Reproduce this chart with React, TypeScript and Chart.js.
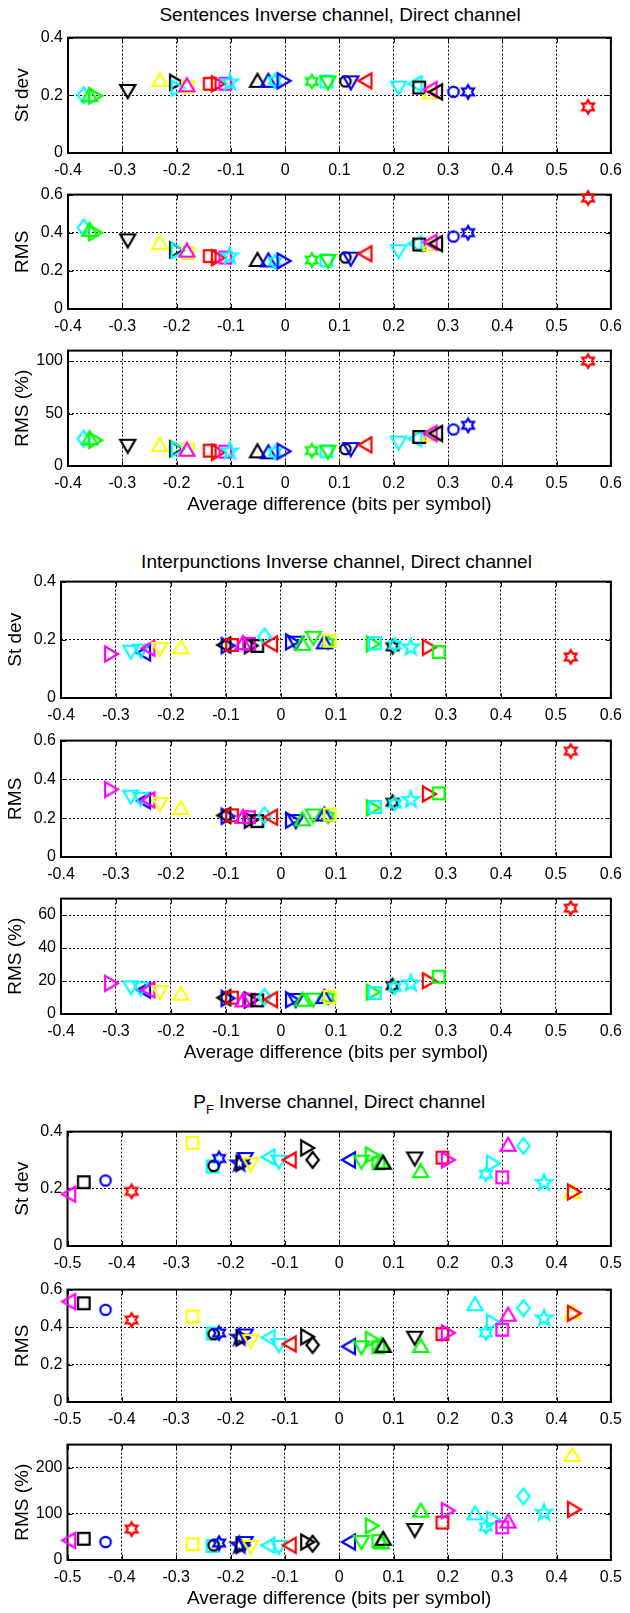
import React, { useEffect, useRef } from 'react';
import { Chart, registerables } from 'chart.js';

Chart.register(...registerables);

// ---------------- Sentences ----------------
const sentencesX = [-0.371, -0.36, -0.35, -0.29, -0.231, -0.201, -0.198, -0.179, -0.181, -0.139, -0.124, -0.11, -0.102, -0.051, -0.031, -0.019, -0.003, 0.049, 0.076, 0.079, 0.111, 0.121, 0.148, 0.209, 0.24, 0.247, 0.268, 0.268, 0.278, 0.31, 0.337, 0.558];
const sentencesStd = [0.2, 0.2, 0.198, 0.215, 0.253, 0.245, 0.225, 0.23, 0.235, 0.24, 0.24, 0.24, 0.245, 0.25, 0.25, 0.25, 0.25, 0.248, 0.248, 0.245, 0.248, 0.245, 0.25, 0.227, 0.24, 0.227, 0.21, 0.22, 0.212, 0.212, 0.212, 0.16];
const sentencesRms = [0.427, 0.415, 0.4, 0.36, 0.346, 0.31, 0.306, 0.294, 0.306, 0.277, 0.269, 0.27, 0.277, 0.257, 0.255, 0.248, 0.252, 0.257, 0.255, 0.252, 0.27, 0.264, 0.29, 0.303, 0.343, 0.338, 0.34, 0.35, 0.343, 0.38, 0.4, 0.582];
const sentencesRmsPct = [26, 26.4, 24.5, 19.3, 19.9, 16.5, 16.1, 15.5, 15.5, 14.6, 13, 13.7, 14, 14, 13, 13, 14, 14.6, 14, 13.7, 16.1, 16.1, 20.2, 22.4, 26, 27.6, 30, 31, 31, 34.8, 38.8, 100];
const sentencesMarkers = ['cd', 'g^', 'g>', 'kv', 'y^', 'k>', 'c>', 'ys', 'm^', 'rs', 'r>', 'ms', 'cp', 'k^', 'b^', 'ch', 'b>', 'gh', 'cs', 'gv', 'ko', 'bv', 'r<', 'cv', 'c<', 'ks', 'y^', 'm<', 'k<', 'bo', 'bh', 'rh'];

// ---------------- Interpunctions ----------------
const interpX = [-0.309, -0.273, -0.249, -0.255, -0.241, -0.22, -0.182, -0.097, -0.103, -0.089, -0.055, -0.069, -0.058, -0.043, -0.03, -0.018, 0.027, 0.02, 0.039, 0.059, 0.086, 0.079, 0.089, 0.167, 0.171, 0.203, 0.207, 0.236, 0.269, 0.287, 0.527];
const interpStd = [0.151, 0.159, 0.155, 0.163, 0.171, 0.169, 0.174, 0.18, 0.182, 0.182, 0.18, 0.189, 0.186, 0.179, 0.211, 0.186, 0.19, 0.193, 0.186, 0.207, 0.19, 0.191, 0.197, 0.186, 0.188, 0.176, 0.182, 0.174, 0.174, 0.158, 0.141];
const interpRms = [0.348, 0.311, 0.29, 0.3, 0.294, 0.274, 0.252, 0.21, 0.214, 0.215, 0.19, 0.207, 0.205, 0.185, 0.214, 0.205, 0.185, 0.19, 0.194, 0.214, 0.21, 0.219, 0.219, 0.253, 0.258, 0.282, 0.275, 0.295, 0.325, 0.328, 0.546];
const interpRmsPct = [18.6, 16.2, 14.5, 15.5, 14.6, 13.3, 12.3, 9.5, 9.9, 9.9, 8.5, 8.3, 8.7, 8.3, 10.3, 8.7, 8.5, 8.7, 8.7, 8.7, 10, 10.3, 10.3, 13.3, 12.7, 17.2, 16.2, 18.6, 20.2, 22.6, 64.2];
const interpMarkers = ['m>', 'cv', 'b<', 'cv', 'm<', 'yv', 'y^', 'b>', 'k<', 'rs', 'k>', 'm^', 'ms', 'ks', 'cd', 'r<', 'bv', 'b>', 'g^', 'gv', 'gh', 'b^', 'ys', 'g>', 'cs', 'kh', 'ch', 'cp', 'r>', 'gs', 'rh'];

// ---------------- P_F ----------------
const pfX = [-0.497, -0.47, -0.43, -0.382, -0.27, -0.233, -0.231, -0.221, -0.184, -0.178, -0.173, -0.163, -0.13, -0.111, -0.091, -0.059, -0.049, 0.018, 0.041, 0.06, 0.072, 0.078, 0.081, 0.139, 0.15, 0.19, 0.2, 0.25, 0.27, 0.283, 0.3, 0.311, 0.339, 0.377, 0.429, 0.432];
const pfStd = [0.181, 0.223, 0.229, 0.191, 0.361, 0.278, 0.28, 0.306, 0.289, 0.289, 0.304, 0.286, 0.311, 0.295, 0.301, 0.343, 0.301, 0.301, 0.295, 0.318, 0.289, 0.295, 0.291, 0.306, 0.262, 0.309, 0.301, 0.456, 0.251, 0.289, 0.24, 0.354, 0.35, 0.221, 0.189, 0.189];
const pfRms = [0.536, 0.527, 0.492, 0.438, 0.456, 0.365, 0.362, 0.368, 0.344, 0.342, 0.355, 0.325, 0.344, 0.304, 0.31, 0.348, 0.304, 0.296, 0.292, 0.334, 0.292, 0.305, 0.299, 0.343, 0.299, 0.362, 0.369, 0.522, 0.369, 0.426, 0.386, 0.466, 0.501, 0.447, 0.478, 0.473];
const pfRmsPct = [42.4, 46, 38.9, 67, 34, 30.4, 31.8, 36.7, 31.8, 31.8, 36.7, 28.3, 31.8, 28.3, 31.8, 38.9, 35.3, 38.9, 38.9, 74, 41, 38, 46, 65, 107, 81, 107, 101, 72, 88, 70.7, 83.4, 137.8, 102.5, 227.6, 109.5];
const pfMarkers = ['m<', 'ks', 'bo', 'rh', 'ys', 'cs', 'ko', 'bh', 'bp', 'k>', 'bv', 'yv', 'c<', 'cv', 'r<', 'k>', 'kd', 'b<', 'gv', 'g>', 'gs', 'g^', 'k^', 'kv', 'g^', 'rs', 'm>', 'c^', 'ch', 'c>', 'ms', 'm^', 'cd', 'cp', 'y^', 'r>'];

// ---------------- Axis ticks ----------------
const xTicksWide = [-0.4, -0.3, -0.2, -0.1, 0, 0.1, 0.2, 0.3, 0.4, 0.5, 0.6];
const xTicksSym = [-0.5, -0.4, -0.3, -0.2, -0.1, 0, 0.1, 0.2, 0.3, 0.4, 0.5];
const stdTicks = [0, 0.2, 0.4];
const rmsTicks = [0, 0.2, 0.4, 0.6];
const pctTicksSentences = [0, 50, 100];
const pctTicksInterp = [0, 20, 40, 60];
const pctTicksPF = [0, 100, 200];

const FONT = '"Liberation Sans", Arial, Helvetica, sans-serif';
const PAD_TOP = 12;
const XTITLE = 'Average difference (bits per symbol)';

const COLORS: Record<string, string> = {
  r: '#ff0000', g: '#00ff00', b: '#0000ff', c: '#00ffff', m: '#ff00ff', y: '#ffff00', k: '#000000',
};

const markerCache = new Map<string, HTMLCanvasElement>();
function makeMarker(spec: string): HTMLCanvasElement {
  const hit = markerCache.get(spec);
  if (hit) return hit;
  const S = 26;
  const c = document.createElement('canvas');
  c.width = S; c.height = S;
  const g = c.getContext('2d')!;
  g.translate(S / 2, S / 2);
  g.strokeStyle = COLORS[spec[0]];
  g.lineWidth = 2.2;
  g.lineJoin = 'miter';
  g.beginPath();
  const poly = (pts: number[][]) => { g.moveTo(pts[0][0], pts[0][1]); for (let i = 1; i < pts.length; i++) g.lineTo(pts[i][0], pts[i][1]); g.closePath(); };
  const star = (n: number, ro: number, ri: number) => {
    const pts: number[][] = [];
    for (let i = 0; i < 2 * n; i++) {
      const a = -Math.PI / 2 + (i * Math.PI) / n;
      const r = i % 2 === 0 ? ro : ri;
      pts.push([r * Math.cos(a), r * Math.sin(a)]);
    }
    poly(pts);
  };
  switch (spec[1]) {
    case 'o': g.arc(0, 0, 5.2, 0, Math.PI * 2); break;
    case 's': g.rect(-5.8, -5.8, 11.6, 11.6); break;
    case 'd': poly([[0, -8], [6.2, 0], [0, 8], [-6.2, 0]]); break;
    case '^': poly([[0, -7], [7.5, 6], [-7.5, 6]]); break;
    case 'v': poly([[0, 7], [7.5, -6], [-7.5, -6]]); break;
    case '>': poly([[7, 0], [-6, -7.5], [-6, 7.5]]); break;
    case '<': poly([[-7, 0], [6, -7.5], [6, 7.5]]); break;
    case 'p': star(5, 8.5, 3.4); break;
    case 'h': star(6, 6.8, 3.9); break;
  }
  g.stroke();
  markerCache.set(spec, c);
  return c;
}

type Group = { left: number; right: number; xTicks: number[]; xs: number[]; markers: string[]; };
const groups: Group[] = [
  { left: 68, right: 612, xTicks: xTicksWide, xs: sentencesX, markers: sentencesMarkers },
  { left: 61, right: 612, xTicks: xTicksWide, xs: interpX, markers: interpMarkers },
  { left: 67.5, right: 611, xTicks: xTicksSym, xs: pfX, markers: pfMarkers },
];

type PanelCfg = { g: number; top: number; bottom: number; ylabel: string; ys: number[]; yTicks: number[]; ymax: number; xtitle?: boolean; };
const panels: PanelCfg[] = [
  { g: 0, top: 35, bottom: 153, ylabel: 'St dev', ys: sentencesStd, yTicks: stdTicks, ymax: 0.4 },
  { g: 0, top: 192, bottom: 309, ylabel: 'RMS', ys: sentencesRms, yTicks: rmsTicks, ymax: 0.6 },
  { g: 0, top: 348, bottom: 466, ylabel: 'RMS (%)', ys: sentencesRmsPct, yTicks: pctTicksSentences, ymax: 110, xtitle: true },
  { g: 1, top: 579, bottom: 698, ylabel: 'St dev', ys: interpStd, yTicks: stdTicks, ymax: 0.4 },
  { g: 1, top: 738, bottom: 857, ylabel: 'RMS', ys: interpRms, yTicks: rmsTicks, ymax: 0.6 },
  { g: 1, top: 896, bottom: 1014, ylabel: 'RMS (%)', ys: interpRmsPct, yTicks: pctTicksInterp, ymax: 70, xtitle: true },
  { g: 2, top: 1129, bottom: 1246, ylabel: 'St dev', ys: pfStd, yTicks: stdTicks, ymax: 0.4 },
  { g: 2, top: 1287, bottom: 1402, ylabel: 'RMS', ys: pfRms, yTicks: rmsTicks, ymax: 0.6 },
  { g: 2, top: 1442, bottom: 1560, ylabel: 'RMS (%)', ys: pfRmsPct, yTicks: pctTicksPF, ymax: 250, xtitle: true },
];

const fmt = (v: number | string) => {
  const r = Math.round(Number(v) * 1000) / 1000;
  return r === 0 ? '0' : String(r);
};

const framePlugin = {
  id: 'matlabFrame',
  beforeDatasetsDraw(chart: any) {
    const { ctx, chartArea: a, scales } = chart;
    ctx.save();
    ctx.strokeStyle = '#000';
    ctx.lineWidth = 1;
    ctx.beginPath();
    scales.x.ticks.forEach((t: any) => {
      const px = Math.round(scales.x.getPixelForValue(t.value)) + 0.5;
      ctx.moveTo(px, a.bottom); ctx.lineTo(px, a.bottom - 5);
      ctx.moveTo(px, a.top); ctx.lineTo(px, a.top + 5);
    });
    scales.y.ticks.forEach((t: any) => {
      const py = Math.round(scales.y.getPixelForValue(t.value)) + 0.5;
      ctx.moveTo(a.left, py); ctx.lineTo(a.left + 5, py);
      ctx.moveTo(a.right, py); ctx.lineTo(a.right - 5, py);
    });
    ctx.stroke();
    ctx.lineWidth = 2;
    ctx.strokeRect(a.left, a.top, a.right - a.left, a.bottom - a.top);
    ctx.restore();
  },
};

function Panel({ p }: { p: PanelCfg }) {
  const ref = useRef<HTMLCanvasElement>(null);
  const grp = groups[p.g];
  const xh = p.xtitle ? 62 : 30;
  const h = p.bottom - p.top + PAD_TOP + xh;
  useEffect(() => {
    const markers = grp.markers.map(makeMarker);
    const data = grp.xs.map((x, i) => ({ x, y: p.ys[i] }));
    const chart = new Chart(ref.current!, {
      type: 'scatter',
      data: {
        datasets: [{
          data,
          showLine: false,
          clip: false as any,
          pointRadius: 6,
          pointStyle: ((ctx: any) => markers[ctx.dataIndex]) as any,
        }],
      },
      plugins: [framePlugin],
      options: {
        responsive: false,
        animation: false,
        events: [],
        layout: { padding: { left: 0, right: 630 - grp.right, top: PAD_TOP, bottom: 0 } },
        plugins: { legend: { display: false }, tooltip: { enabled: false } },
        scales: {
          x: {
            type: 'linear',
            position: 'bottom',
            min: grp.xTicks[0],
            max: grp.xTicks[grp.xTicks.length - 1],
            afterBuildTicks: (s: any) => { s.ticks = grp.xTicks.map((v) => ({ value: v })); },
            afterFit: (s: any) => { s.height = xh; },
            grid: { color: '#000', lineWidth: 1, drawTicks: false },
            border: { display: false, dash: [2, 2] },
            ticks: { padding: 8, color: '#000', autoSkip: false, maxRotation: 0, font: { family: FONT, size: 16 }, callback: fmt },
            title: p.xtitle
              ? { display: true, text: XTITLE, color: '#000', font: { family: FONT, size: 19 }, padding: { top: 0, bottom: 11.6 } }
              : { display: false },
          },
          y: {
            type: 'linear',
            min: 0,
            max: p.ymax,
            afterBuildTicks: (s: any) => { s.ticks = p.yTicks.map((v) => ({ value: v })); },
            afterFit: (s: any) => { s.width = grp.left; },
            grid: { color: '#000', lineWidth: 1, drawTicks: false },
            border: { display: false, dash: [2, 2] },
            ticks: { padding: 5, color: '#000', font: { family: FONT, size: 16 }, callback: fmt },
            title: { display: true, text: p.ylabel, color: '#000', font: { family: FONT, size: 19 }, padding: { top: grp.left - 45 - 11.4, bottom: 0 } },
          },
        },
      } as any,
    });
    return () => chart.destroy();
  }, []);
  return (
    <canvas
      ref={ref}
      width={630}
      height={h}
      style={{ position: 'absolute', left: 0, top: p.top - PAD_TOP, width: 630, height: h }}
    />
  );
}

function Title({ g, cy, children }: { g: number; cy: number; children: React.ReactNode }) {
  const grp = groups[g];
  return (
    <div
      style={{
        position: 'absolute', left: grp.left, width: grp.right - grp.left, top: cy - 12, height: 24,
        lineHeight: '24px', textAlign: 'center', fontFamily: FONT, fontSize: 19, color: '#000', whiteSpace: 'nowrap',
      }}
    >
      {children}
    </div>
  );
}

export default function App() {
  return (
    <div style={{ position: 'absolute', left: 0, top: 0, width: 630, height: 1613, background: '#fff', overflow: 'hidden' }}>
      <Title g={0} cy={15}>Sentences Inverse channel, Direct channel</Title>
      <Title g={1} cy={562}>Interpunctions Inverse channel, Direct channel</Title>
      <Title g={2} cy={1102}>
        P<sub style={{ fontSize: 13, verticalAlign: '-6px', lineHeight: 0 }}>F</sub> Inverse channel, Direct channel
      </Title>
      {panels.map((p, i) => (
        <Panel key={i} p={p} />
      ))}
    </div>
  );
}
